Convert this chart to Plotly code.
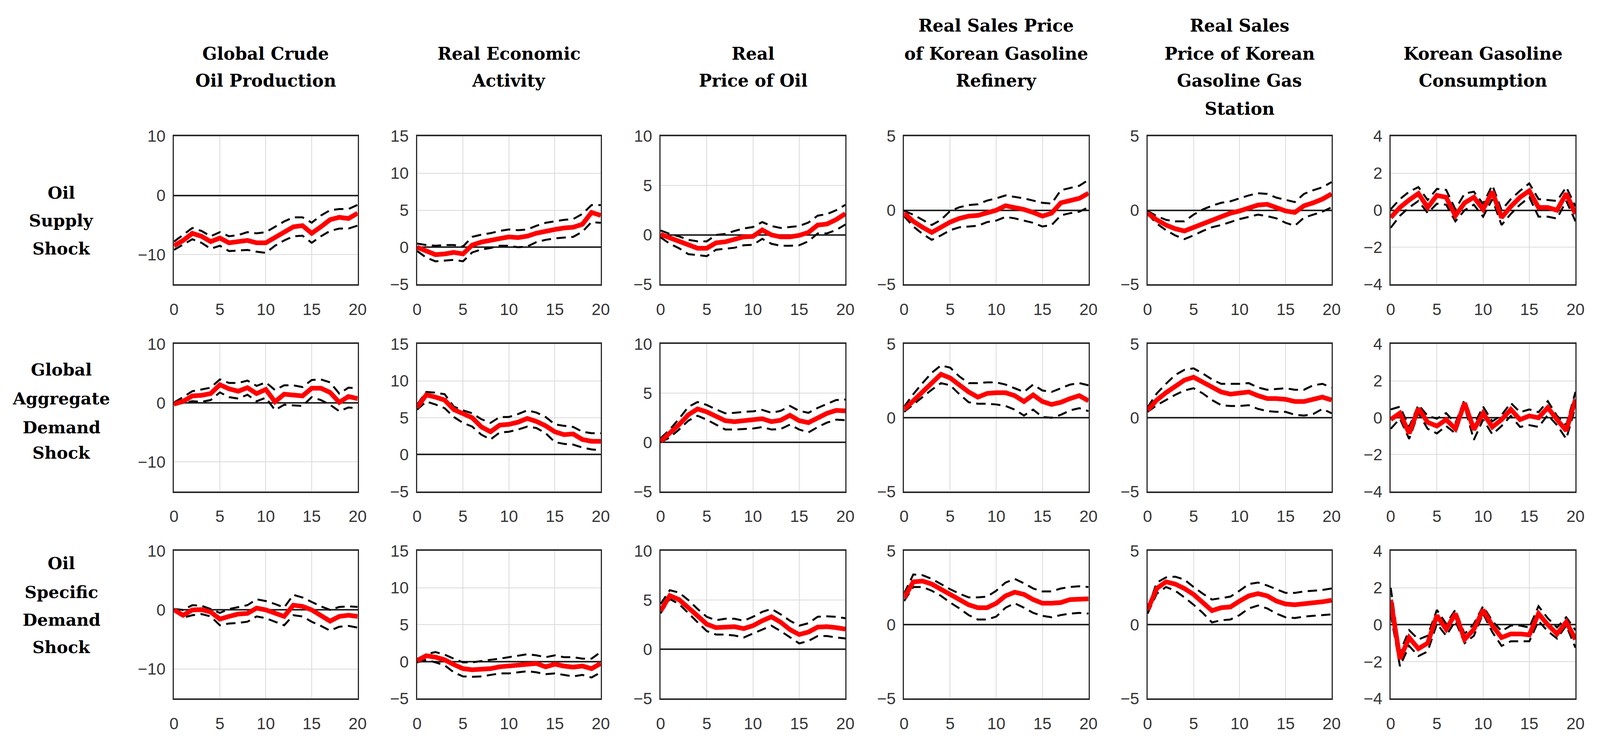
import plotly.graph_objects as go

W, H = 4189, 1911  # reference canvas size, used to convert pixel geometry to paper fractions
HORIZON = list(range(21))

COL_TITLES = [
    ["Global Crude", "Oil Production"],
    ["Real Economic", "Activity"],
    ["Real", "Price of Oil"],
    ["Real Sales Price", "of Korean Gasoline", "Refinery"],
    ["Real Sales", "Price of Korean", "Gasoline Gas", "Station"],
    ["Korean Gasoline", "Consumption"],
]
ROW_TITLES = [
    ["Oil", "Supply", "Shock"],
    ["Global", "Aggregate", "Demand", "Shock"],
    ["Oil", "Specific", "Demand", "Shock"],
]
Y_RANGES = [[-15, 10], [-5, 15], [-5, 10], [-5, 5], [-5, 5], [-4, 4]]
Y_TICKS = [[-10, 0, 10], [-5, 0, 5, 10, 15], [-5, 0, 5, 10], [-5, 0, 5], [-5, 0, 5], [-4, -2, 0, 2, 4]]
X_TICKS = [0, 5, 10, 15, 20]

# ---- Oil supply shock ----
S1_PROD_MID = [-8.5, -7.6, -6.4, -6.9, -7.8, -7.2, -8.0, -7.8, -7.6, -8.0, -8.0, -7.1, -6.2, -5.3, -5.1, -6.4, -5.3, -4.1, -3.7, -3.9, -3.0]
S1_PROD_UP = [-7.8, -6.7, -5.5, -6.0, -6.9, -6.2, -6.9, -6.7, -6.2, -6.4, -6.2, -5.3, -4.4, -3.7, -3.7, -4.6, -3.4, -2.5, -2.3, -2.3, -1.6]
S1_PROD_LO = [-9.2, -8.3, -7.4, -8.0, -9.0, -8.5, -9.4, -9.3, -9.2, -9.5, -9.7, -8.5, -7.6, -6.9, -6.8, -8.0, -6.9, -6.0, -5.6, -5.6, -5.1]

S1_REA_MID = [0, -0.5, -1.0, -0.9, -0.7, -0.9, 0.3, 0.7, 0.9, 1.2, 1.4, 1.3, 1.5, 1.9, 2.2, 2.4, 2.6, 2.7, 3.1, 4.7, 4.3]
S1_REA_UP = [0.5, 0.3, 0.2, 0.3, 0.3, 0.1, 1.4, 1.7, 1.9, 2.2, 2.4, 2.3, 2.4, 2.9, 3.3, 3.5, 3.7, 3.8, 4.5, 5.7, 5.7]
S1_REA_LO = [-0.5, -1.4, -1.9, -1.8, -1.7, -1.9, -0.7, -0.3, -0.1, 0.2, 0.2, 0, 0.1, 0.7, 1.0, 1.2, 1.3, 1.4, 2.1, 3.4, 3.3]

S1_OIL_MID = [0.05, -0.3, -0.65, -1.1, -1.35, -1.35, -0.8, -0.7, -0.45, -0.2, -0.15, 0.5, 0, -0.2, -0.2, -0.05, 0.25, 1.0, 1.1, 1.55, 2.15]
S1_OIL_UP = [0.45, 0.1, -0.15, -0.5, -0.65, -0.65, 0, 0.1, 0.4, 0.65, 0.8, 1.3, 0.9, 0.7, 0.8, 0.9, 1.25, 1.95, 2.1, 2.5, 3.05]
S1_OIL_LO = [-0.25, -0.9, -1.35, -1.95, -2.05, -2.15, -1.5, -1.4, -1.3, -1.05, -1.0, -0.4, -0.9, -1.1, -1.1, -1.05, -0.65, 0.15, 0.15, 0.5, 1.05]

S1_REF_MID = [-0.2, -0.75, -1.15, -1.5, -1.15, -0.8, -0.55, -0.4, -0.35, -0.2, 0, 0.3, 0.2, 0.05, -0.15, -0.4, -0.2, 0.5, 0.65, 0.8, 1.15]
S1_REF_UP = [-0.05, -0.3, -0.65, -1.0, -0.65, -0.05, 0.2, 0.35, 0.4, 0.65, 0.8, 1.0, 0.9, 0.8, 0.65, 0.5, 0.45, 1.35, 1.5, 1.65, 2.05]
S1_REF_LO = [-0.4, -1.1, -1.6, -2.0, -1.7, -1.35, -1.15, -1.1, -1.05, -0.8, -0.7, -0.45, -0.55, -0.7, -0.85, -1.1, -1.0, -0.35, -0.2, -0.1, 0.2]

S1_GAS_MID = [-0.2, -0.65, -1.0, -1.25, -1.4, -1.15, -0.9, -0.65, -0.45, -0.2, -0.05, 0.15, 0.35, 0.4, 0.2, -0.05, -0.15, 0.3, 0.5, 0.75, 1.1]
S1_GAS_UP = [-0.05, -0.4, -0.65, -0.75, -0.75, -0.3, 0.05, 0.3, 0.5, 0.6, 0.8, 1.0, 1.15, 1.1, 0.85, 0.7, 0.55, 1.1, 1.35, 1.55, 1.9]
S1_GAS_LO = [-0.25, -0.9, -1.35, -1.7, -1.95, -1.7, -1.4, -1.15, -1.0, -0.8, -0.6, -0.45, -0.3, -0.4, -0.55, -0.85, -1.05, -0.5, -0.3, -0.1, 0.2]

S1_CON_MID = [-0.4, 0.15, 0.55, 0.9, 0.15, 0.8, 0.7, -0.3, 0.4, 0.7, 0.05, 1.0, -0.4, 0.2, 0.7, 1.05, 0.15, 0.15, 0, 0.9, -0.2]
S1_CON_UP = [0.05, 0.6, 1.0, 1.25, 0.55, 1.15, 1.1, 0.05, 0.9, 1.0, 0.35, 1.35, 0, 0.6, 1.05, 1.45, 0.6, 0.55, 0.5, 1.25, 0.2]
S1_CON_LO = [-0.95, -0.3, 0.15, 0.5, -0.15, 0.35, 0.3, -0.6, 0, 0.3, -0.35, 0.6, -0.8, -0.2, 0.3, 0.7, -0.35, -0.35, -0.45, 0.5, -0.6]

# ---- Global aggregate demand shock ----
S2_PROD_MID = [-0.2, 0.3, 1.2, 1.3, 1.6, 3.1, 2.4, 2.0, 2.6, 1.6, 2.3, 0.2, 1.5, 1.4, 1.2, 2.5, 2.5, 1.8, 0.1, 1.1, 0.75]
S2_PROD_UP = [0.1, 1.0, 2.0, 2.3, 2.6, 4.0, 3.4, 3.4, 3.8, 2.9, 3.5, 2.2, 3.0, 3.0, 2.7, 3.9, 4.0, 3.5, 1.6, 2.6, 2.5]
S2_PROD_LO = [-0.3, 0, 0.3, 0.2, 0.5, 1.8, 1.0, 0.75, 1.4, 0.3, 0.9, -1.2, -0.3, -0.4, -0.5, 1.0, 0.5, -0.3, -1.4, -0.75, -0.9]

S2_REA_MID = [6.4, 8.1, 7.8, 7.4, 6.1, 5.5, 5.0, 3.75, 3.1, 4.0, 4.1, 4.4, 4.9, 4.5, 3.9, 3.1, 2.7, 2.8, 2.05, 1.8, 1.8]
S2_REA_UP = [6.8, 8.5, 8.4, 8.2, 6.5, 6.0, 5.6, 4.8, 4.3, 5.1, 5.1, 5.5, 6.0, 5.7, 5.1, 4.1, 3.9, 3.75, 3.1, 2.9, 2.9]
S2_REA_LO = [6.1, 7.2, 6.8, 6.3, 5.1, 4.3, 3.8, 2.7, 2.05, 3.0, 3.1, 3.4, 3.8, 3.6, 2.9, 1.7, 1.45, 1.35, 0.95, 0.7, 0.6]

S2_OIL_MID = [0.1, 0.9, 1.8, 2.8, 3.4, 3.1, 2.6, 2.2, 2.1, 2.2, 2.25, 2.4, 2.1, 2.25, 2.75, 2.2, 2.0, 2.45, 2.95, 3.25, 3.2]
S2_OIL_UP = [0.4, 1.3, 2.4, 3.6, 4.1, 3.8, 3.35, 2.95, 3.0, 3.1, 3.15, 3.3, 3.0, 3.2, 3.7, 3.2, 3.0, 3.5, 3.9, 4.3, 4.35]
S2_OIL_LO = [0, 0.5, 1.3, 2.2, 2.7, 2.3, 1.8, 1.3, 1.3, 1.35, 1.4, 1.55, 1.3, 1.35, 1.8, 1.3, 1.0, 1.55, 2.0, 2.3, 2.25]

S2_REF_MID = [0.55, 1.15, 1.75, 2.45, 2.95, 2.7, 2.25, 1.75, 1.4, 1.65, 1.7, 1.7, 1.5, 1.1, 1.55, 1.1, 0.9, 1.05, 1.3, 1.5, 1.15]
S2_REF_UP = [0.75, 1.6, 2.35, 3.05, 3.55, 3.4, 2.8, 2.35, 2.35, 2.4, 2.4, 2.25, 2.0, 1.75, 2.25, 1.85, 1.75, 2.0, 2.25, 2.35, 2.2]
S2_REF_LO = [0.4, 0.9, 1.4, 1.9, 2.35, 2.2, 1.6, 1.05, 0.95, 0.95, 0.9, 0.8, 0.55, 0.15, 0.55, 0.05, 0, 0.2, 0.5, 0.65, 0.45]

S2_GAS_MID = [0.5, 1.2, 1.7, 2.15, 2.55, 2.75, 2.4, 2.05, 1.75, 1.6, 1.65, 1.75, 1.5, 1.3, 1.3, 1.25, 1.1, 1.1, 1.25, 1.4, 1.2]
S2_GAS_UP = [0.7, 1.65, 2.3, 2.9, 3.25, 3.35, 3.0, 2.6, 2.3, 2.3, 2.3, 2.35, 2.05, 1.9, 1.95, 2.0, 1.9, 1.9, 2.2, 2.3, 2.05]
S2_GAS_LO = [0.4, 0.85, 1.2, 1.55, 1.85, 2.0, 1.65, 1.2, 0.85, 0.8, 0.8, 0.85, 0.6, 0.45, 0.4, 0.4, 0.2, 0.15, 0.25, 0.6, 0.3]

S2_CON_MID = [-0.1, 0.25, -0.85, 0.5, -0.25, -0.45, -0.1, -0.6, 0.8, -0.65, 0.25, -0.5, -0.1, 0.45, -0.1, 0.1, 0, 0.55, -0.1, -0.7, 1.0]
S2_CON_UP = [0.45, 0.6, -0.5, 0.7, 0.1, -0.05, 0.25, -0.3, 1.0, -0.4, 0.6, -0.2, 0.15, 0.8, 0.3, 0.45, 0.3, 0.9, 0.1, -0.4, 1.4]
S2_CON_LO = [-0.6, -0.05, -1.15, 0.25, -0.6, -0.85, -0.45, -0.85, 0.6, -1.2, -0.1, -0.9, -0.45, 0.1, -0.5, -0.4, -0.5, 0.15, -0.4, -1.15, 0.6]

# ---- Oil specific demand shock ----
S3_PROD_MID = [0, -0.9, 0, 0.05, -0.35, -1.55, -1.1, -0.7, -0.6, 0.3, 0, -0.5, -1.1, 0.8, 0.6, 0, -0.9, -1.9, -1.1, -0.9, -1.1]
S3_PROD_UP = [0.15, 0, 0.8, 0.7, 0.15, -0.5, 0.15, 0.5, 0.8, 1.8, 1.5, 1.0, 0.4, 2.55, 2.1, 1.35, 0.6, 0, 0.5, 0.6, 0.5]
S3_PROD_LO = [0, -1.3, -0.9, -0.7, -1.1, -2.6, -2.3, -2.2, -2.0, -1.1, -1.4, -2.0, -2.6, -0.9, -1.1, -2.0, -2.7, -3.5, -2.85, -2.7, -3.0]

S3_REA_MID = [0.1, 0.8, 0.6, 0.25, -0.4, -0.95, -1.1, -1.1, -0.95, -0.7, -0.6, -0.5, -0.4, -0.25, -0.7, -0.35, -0.6, -0.75, -0.6, -0.95, -0.25]
S3_REA_UP = [0.35, 1.0, 1.3, 0.95, 0.4, -0.1, -0.1, 0.1, 0.25, 0.4, 0.6, 0.75, 1.0, 0.85, 0.6, 0.85, 0.6, 0.6, 0.4, 0.4, 1.3]
S3_REA_LO = [-0.1, 0.25, -0.1, -0.5, -1.45, -2.0, -2.05, -2.0, -1.8, -1.6, -1.6, -1.45, -1.3, -1.45, -1.7, -1.6, -1.8, -2.0, -1.8, -2.15, -1.45]

S3_OIL_MID = [3.9, 5.45, 5.05, 4.3, 3.4, 2.55, 2.2, 2.25, 2.3, 2.1, 2.4, 2.9, 3.3, 2.75, 2.0, 1.5, 1.75, 2.25, 2.3, 2.2, 2.05]
S3_OIL_UP = [4.6, 6.0, 5.75, 5.0, 4.1, 3.3, 2.95, 3.1, 3.1, 2.9, 3.3, 3.8, 4.1, 3.55, 2.9, 2.4, 2.65, 3.3, 3.35, 3.3, 3.15]
S3_OIL_LO = [3.65, 5.1, 4.6, 3.65, 2.75, 1.85, 1.5, 1.5, 1.4, 1.2, 1.6, 2.0, 2.4, 1.85, 1.2, 0.6, 0.85, 1.35, 1.35, 1.2, 1.1]

S3_REF_MID = [1.8, 2.9, 2.95, 2.75, 2.4, 2.05, 1.7, 1.35, 1.15, 1.15, 1.45, 1.95, 2.2, 2.05, 1.7, 1.45, 1.45, 1.5, 1.7, 1.75, 1.75]
S3_REF_UP = [2.1, 3.4, 3.35, 3.1, 2.75, 2.4, 2.1, 1.85, 1.85, 1.9, 2.3, 2.85, 3.1, 2.8, 2.45, 2.25, 2.25, 2.45, 2.55, 2.6, 2.55]
S3_REF_LO = [1.6, 2.55, 2.55, 2.3, 1.95, 1.5, 1.1, 0.65, 0.35, 0.35, 0.55, 1.15, 1.45, 1.15, 0.8, 0.6, 0.5, 0.65, 0.75, 0.8, 0.75]

S3_GAS_MID = [1.0, 2.45, 2.9, 2.75, 2.45, 2.05, 1.5, 0.95, 1.15, 1.2, 1.6, 1.95, 2.1, 1.95, 1.6, 1.4, 1.35, 1.4, 1.45, 1.55, 1.65]
S3_GAS_UP = [1.1, 2.85, 3.2, 3.25, 3.05, 2.55, 2.1, 1.7, 1.8, 1.9, 2.3, 2.75, 2.85, 2.65, 2.4, 2.15, 2.15, 2.25, 2.3, 2.35, 2.45]
S3_GAS_LO = [0.75, 2.1, 2.55, 2.3, 1.85, 1.35, 0.8, 0.15, 0.3, 0.35, 0.65, 1.1, 1.3, 1.1, 0.75, 0.5, 0.45, 0.55, 0.6, 0.65, 0.7]

S3_CON_MID = [1.35, -1.85, -0.7, -1.3, -1.0, 0.5, -0.25, 0.6, -0.8, -0.25, 0.8, -0.05, -0.7, -0.5, -0.5, -0.55, 0.6, 0, -0.5, 0.15, -0.8]
S3_CON_UP = [2.0, -1.5, -0.3, -0.8, -0.6, 0.8, 0.05, 0.8, -0.5, 0.05, 1.0, 0.2, -0.35, -0.05, -0.05, -0.15, 1.0, 0.35, -0.15, 0.4, -0.3]
S3_CON_LO = [0.6, -2.25, -1.15, -1.7, -1.45, 0.05, -0.6, 0.2, -1.0, -0.6, 0.6, -0.4, -1.15, -0.9, -0.9, -0.9, 0.2, -0.35, -0.75, -0.05, -1.25]

PANELS = [
    [(S1_PROD_MID, S1_PROD_UP, S1_PROD_LO), (S1_REA_MID, S1_REA_UP, S1_REA_LO), (S1_OIL_MID, S1_OIL_UP, S1_OIL_LO),
     (S1_REF_MID, S1_REF_UP, S1_REF_LO), (S1_GAS_MID, S1_GAS_UP, S1_GAS_LO), (S1_CON_MID, S1_CON_UP, S1_CON_LO)],
    [(S2_PROD_MID, S2_PROD_UP, S2_PROD_LO), (S2_REA_MID, S2_REA_UP, S2_REA_LO), (S2_OIL_MID, S2_OIL_UP, S2_OIL_LO),
     (S2_REF_MID, S2_REF_UP, S2_REF_LO), (S2_GAS_MID, S2_GAS_UP, S2_GAS_LO), (S2_CON_MID, S2_CON_UP, S2_CON_LO)],
    [(S3_PROD_MID, S3_PROD_UP, S3_PROD_LO), (S3_REA_MID, S3_REA_UP, S3_REA_LO), (S3_OIL_MID, S3_OIL_UP, S3_OIL_LO),
     (S3_REF_MID, S3_REF_UP, S3_REF_LO), (S3_GAS_MID, S3_GAS_UP, S3_GAS_LO), (S3_CON_MID, S3_CON_UP, S3_CON_LO)],
]

# layout geometry (reference pixels, converted to paper fractions)
COL_LEFT = [447, 1089, 1732, 2375, 3018, 3660]
COL_RIGHT = [932, 1574, 2220, 2862, 3504, 4148]
ROW_TOP = [334, 880, 1423]
ROW_BOT = [723, 1267, 1811]
TITLE_LINE_Y = [44, 117, 188, 262]
TITLE_START = [1, 1, 1, 0, 0, 1]
ROW_LINE_Y = [[483, 556, 629], [947, 1023, 1099, 1166], [1456, 1532, 1604, 1676]]
ROW_LABEL_X = 150

fig = go.Figure()
layout = dict(
    autosize=True,
    margin=dict(l=0, r=0, t=0, b=0, pad=0),
    paper_bgcolor="white", plot_bgcolor="white",
    showlegend=False,
)
annotations = []
TICKFONT = dict(family="Liberation Sans, Arial, sans-serif", size=42, color="#363636")
FRAME = "#2a2a2a"
GRID = "#dadada"

for r in range(3):
    for c in range(6):
        k = r * 6 + c + 1
        xa = "x" if k == 1 else f"x{k}"
        ya = "y" if k == 1 else f"y{k}"
        mid, up, lo = PANELS[r][c]
        for series in (up, lo):
            fig.add_trace(go.Scatter(x=HORIZON, y=series, xaxis=xa, yaxis=ya, mode="lines",
                                     line=dict(color="black", width=5, dash="24px,14px"),
                                     hoverinfo="skip"))
        fig.add_trace(go.Scatter(x=HORIZON, y=mid, xaxis=xa, yaxis=ya, mode="lines",
                                 line=dict(color="#ff0000", width=12), hoverinfo="skip"))
        xkey = "xaxis" if k == 1 else f"xaxis{k}"
        ykey = "yaxis" if k == 1 else f"yaxis{k}"
        layout[xkey] = dict(
            domain=[COL_LEFT[c] / W, COL_RIGHT[c] / W], anchor=ya,
            range=[0, 20], tickvals=X_TICKS, showgrid=True, gridcolor=GRID, gridwidth=2,
            zeroline=False, showline=True, mirror=True, linecolor=FRAME, linewidth=4,
            ticks="", tickfont=TICKFONT, ticklabelstandoff=24,
        )
        layout[ykey] = dict(
            domain=[1 - ROW_BOT[r] / H, 1 - ROW_TOP[r] / H], anchor=xa,
            range=Y_RANGES[c], tickvals=Y_TICKS[c], showgrid=True, gridcolor=GRID, gridwidth=2,
            zeroline=True, zerolinecolor="#222222", zerolinewidth=4,
            showline=True, mirror=True, linecolor=FRAME, linewidth=3,
            ticks="", tickfont=TICKFONT, ticklabelstandoff=10,
        )

TITLE_FONT = dict(family="DejaVu Serif, serif", size=44, color="black")
ROW_FONT = dict(family="DejaVu Serif, serif", size=43, color="black")
for c, lines in enumerate(COL_TITLES):
    cx = (COL_LEFT[c] + COL_RIGHT[c]) / 2 / W
    for i, txt in enumerate(lines):
        py = TITLE_LINE_Y[TITLE_START[c] + i]
        annotations.append(dict(x=cx, y=1 - py / H, xref="paper", yref="paper",
                                text=f"<b>{txt}</b>", showarrow=False, xanchor="center",
                                yanchor="middle", font=TITLE_FONT))

for r, lines in enumerate(ROW_TITLES):
    for i, txt in enumerate(lines):
        py = ROW_LINE_Y[r][i]
        annotations.append(dict(x=ROW_LABEL_X / W, y=1 - py / H, xref="paper", yref="paper",
                                text=f"<b>{txt}</b>", showarrow=False, xanchor="center",
                                yanchor="middle", font=ROW_FONT))

layout["annotations"] = annotations
fig.update_layout(**layout)
fig.write_html(
    "out.html",
    config={"responsive": True, "displayModeBar": False},
    default_width="100vw",
    default_height="100vh",
    post_script=(
        "document.documentElement.style.margin='0';"
        "document.documentElement.style.overflow='hidden';"
        "document.body.style.margin='0';document.body.style.padding='0';"
        "document.body.style.overflow='hidden';"
        "Plotly.Plots.resize(document.getElementById('{plot_id}'));"
    ),
)
